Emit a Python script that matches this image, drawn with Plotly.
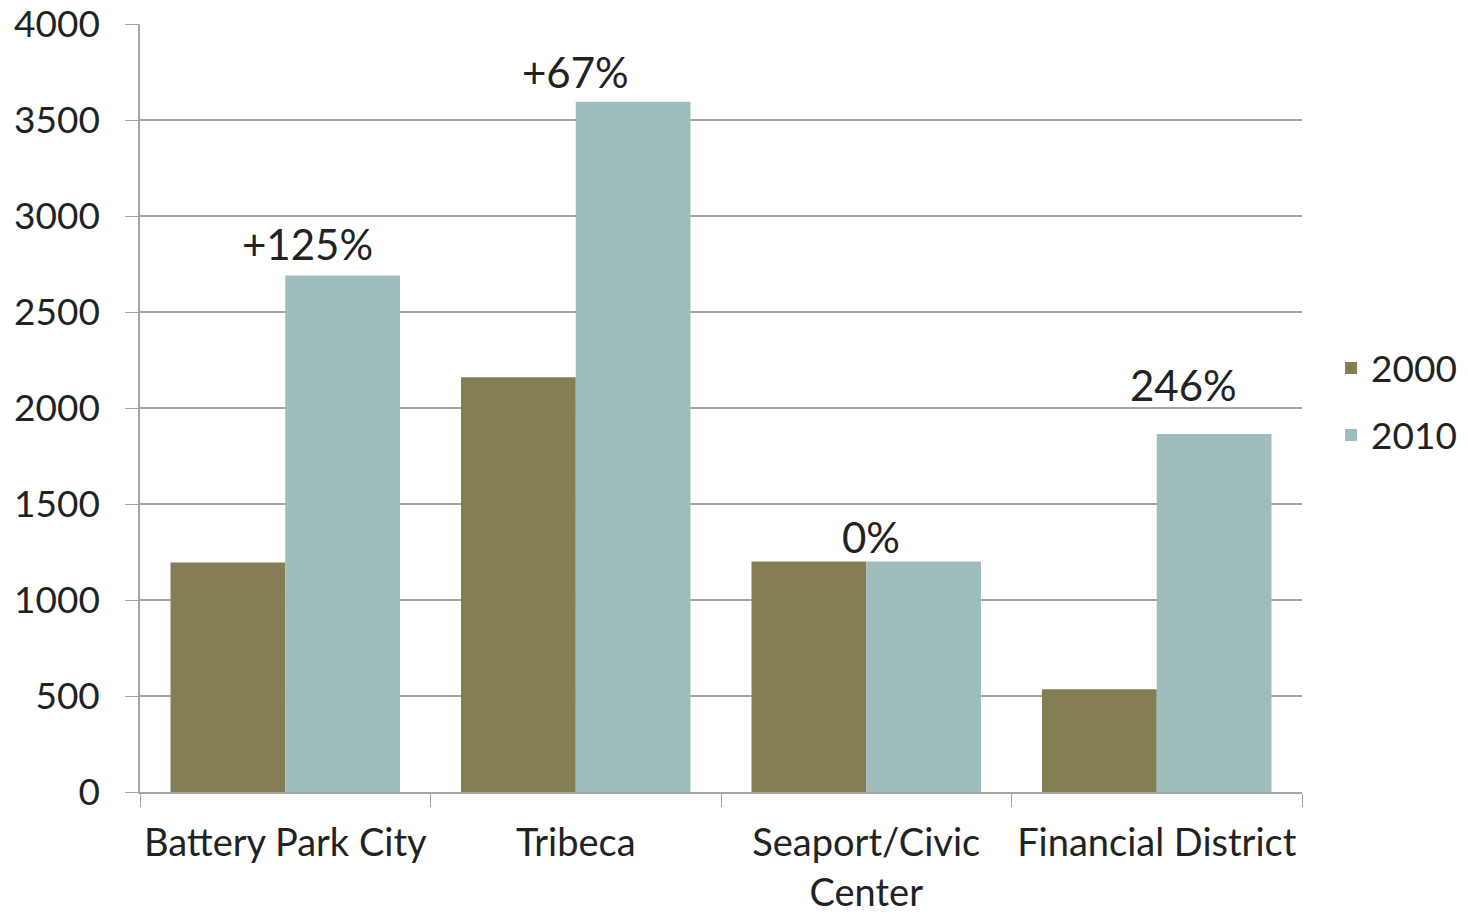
import plotly.graph_objects as go

categories = ["Battery Park City", "Tribeca", "Seaport/Civic<br>Center", "Financial District"]
values_2000 = [1195, 2160, 1200, 535]
values_2010 = [2690, 3595, 1200, 1865]
change_labels = ["+125%", "+67%", "0%", "246%"]
label_xshift = [22, 0, 5, 27]
label_yshift = [5, 3, -2, 22]

color_2000 = "#847E55"
color_2010 = "#9EBDBC"
FONT = "Lato"
TXT = "#222222"

fig = go.Figure()
fig.add_bar(name="2000", x=categories, y=values_2000, marker_color=color_2000,
            marker_line_width=0, legendgroup="a")
fig.add_bar(name="2010", x=categories, y=values_2010, marker_color=color_2010,
            marker_line_width=0, legendgroup="b")

for cat, v, lab, sx, sy in zip(categories, values_2010, change_labels, label_xshift, label_yshift):
    fig.add_annotation(x=cat, y=v, text=lab, showarrow=False, yanchor="bottom",
                       xshift=sx, yshift=sy, font=dict(family=FONT, size=42, color=TXT))

fig.update_layout(
    width=1460, height=908,
    margin=dict(l=132, r=166, t=16, b=124, autoexpand=False),
    plot_bgcolor="white", paper_bgcolor="white",
    barmode="group", bargap=0.21, bargroupgap=0,
    font=dict(family=FONT, size=37, color=TXT),
    legend=dict(x=1.025, y=0.508, xanchor="left", yanchor="middle",
                font=dict(size=37), tracegroupgap=16, itemwidth=30),
)
fig.update_yaxes(range=[0, 4000], dtick=500, showgrid=True, gridcolor="#A6A6A6", gridwidth=1.5,
                 showline=True, linecolor="#A6A6A6", linewidth=1.5,
                 ticks="outside", ticklen=13, tickcolor="#A6A6A6", ticklabelstandoff=18,
                 tickfont=dict(size=37), zeroline=False, automargin=False,
                 ticklabeloverflow="allow")
fig.update_xaxes(showline=True, linecolor="#A6A6A6", linewidth=1.5,
                 ticks="outside", ticklen=13, tickcolor="#A6A6A6", tickson="boundaries",
                 tickfont=dict(size=38), ticklabelstandoff=17, automargin=False,
                 ticklabeloverflow="allow", tickangle=0)

fig.write_html("out.html")
